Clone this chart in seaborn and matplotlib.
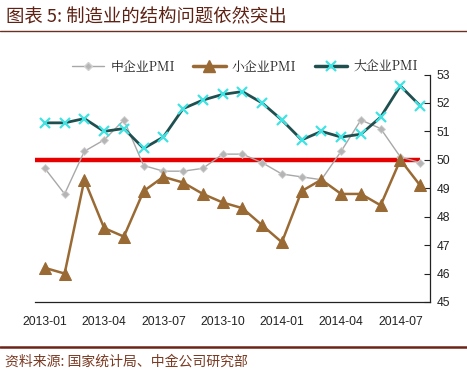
import matplotlib
matplotlib.use("Agg")
import matplotlib.pyplot as plt
import matplotlib.ticker as mticker
from matplotlib.lines import Line2D
import seaborn as sns
import numpy as np

months = ["2013-01", "2013-02", "2013-03", "2013-04", "2013-05", "2013-06", "2013-07",
          "2013-08", "2013-09", "2013-10", "2013-11", "2013-12", "2014-01", "2014-02",
          "2014-03", "2014-04", "2014-05", "2014-06", "2014-07", "2014-08"]
medium_pmi = [49.7, 48.8, 50.3, 50.7, 51.4, 49.8, 49.6, 49.6, 49.7, 50.2,
              50.2, 49.9, 49.5, 49.4, 49.3, 50.3, 51.4, 51.1, 50.1, 49.9]
small_pmi = [46.2, 46.0, 49.3, 47.6, 47.3, 48.9, 49.4, 49.2, 48.8, 48.5,
             48.3, 47.7, 47.1, 48.9, 49.3, 48.8, 48.8, 48.4, 50.0, 49.1]
large_pmi = [51.3, 51.3, 51.45, 51.0, 51.1, 50.4, 50.8, 51.8, 52.1, 52.3,
             52.4, 52.0, 51.4, 50.7, 51.0, 50.8, 50.9, 51.5, 52.6, 51.9]
series_names = ["中企业PMI", "小企业PMI", "大企业PMI"]
y_ticks = [45, 46, 47, 48, 49, 50, 51, 52, 53]
threshold = 50
title_text = "图表 5: 制造业的结构问题依然突出"
source_text = "资料来源: 国家统计局、中金公司研究部"

sns.set_style("white")
plt.rcParams["font.family"] = ["Liberation Sans", "Noto Sans CJK SC", "DejaVu Sans"]

fig = plt.figure(figsize=(4.67, 3.74), dpi=100)
ax = fig.add_axes([35 / 467, 1 - 302 / 374, 395 / 467, (302 - 74.5) / 374])

x = np.arange(len(months))

grey = "#a8a8a8"
brown = "#9a6a34"
dark = "#1f4f4f"
cyan = "#3fe3e3"
red = "#e60000"

ax.hlines(threshold, -0.5, len(months) - 1, color=red, lw=3.2, zorder=2)

sns.lineplot(x=x, y=medium_pmi, ax=ax, color=grey, lw=1.0, marker="D", markersize=4.5,
             markerfacecolor="#b5b5b5", markeredgecolor="#d0d0d0", markeredgewidth=0.6, zorder=3)
sns.lineplot(x=x, y=small_pmi, ax=ax, color=brown, lw=1.8, marker="^", markersize=9,
             markerfacecolor=brown, markeredgecolor=brown, zorder=4)
sns.lineplot(x=x, y=large_pmi, ax=ax, color=dark, lw=2.0, marker="x", markersize=7,
             markeredgecolor=cyan, markeredgewidth=1.6, zorder=5)

ax.set_xlim(-0.5, len(months) - 0.5)
ax.set_ylim(45, 53)
ax.set_yticks(y_ticks)
ax.yaxis.tick_right()
ax.yaxis.set_label_position("right")
ax.set_xticks(x[::3])
ax.set_xticklabels(months[::3])
ax.xaxis.set_minor_locator(mticker.FixedLocator(list(np.arange(-0.5, len(months), 3)) + [len(months) - 0.5]))
ax.tick_params(axis="x", which="major", length=0, pad=10, labelsize=8.7, colors="#222222")
ax.tick_params(axis="x", which="minor", length=4, direction="in", color="#222222", width=0.8)
ax.tick_params(axis="y", which="major", length=4, direction="in", pad=5, labelsize=8.7,
               colors="#222222", width=0.8, right=True, left=False)
ax.set_xlabel("")
ax.set_ylabel("")
for s in ["top", "left"]:
    ax.spines[s].set_visible(False)
for s in ["bottom", "right"]:
    ax.spines[s].set_visible(True)
    ax.spines[s].set_color("#222222")
    ax.spines[s].set_linewidth(0.9)

handles = [
    Line2D([], [], color=grey, lw=1.0, marker="D", markersize=4.5,
           markerfacecolor="#b5b5b5", markeredgecolor="#d0d0d0"),
    Line2D([], [], color=brown, lw=2.5, marker="^", markersize=8, markerfacecolor=brown,
           markeredgecolor=brown),
    Line2D([], [], color=dark, lw=2.5, marker="x", markersize=7, markeredgecolor=cyan,
           markeredgewidth=1.6),
]
leg = fig.legend(handles, series_names, loc="center", bbox_to_anchor=(245 / 467, 1 - 67 / 374),
                 ncol=3, frameon=False, handlelength=2.5, columnspacing=1.4, handletextpad=0.5,
                 prop={"family": ["Noto Serif CJK SC", "Noto Sans CJK SC", "DejaVu Sans"], "size": 9.3})
for t in leg.get_texts():
    t.set_color("#222222")

title_color = "#5e2214"
fig.text(6 / 467, 1 - 17 / 374, title_text, fontsize=13.2, color=title_color,
         family=["Noto Sans CJK SC", "DejaVu Sans"], ha="left", va="center")
fig.add_artist(Line2D([0, 1], [1 - 31 / 374, 1 - 31 / 374], color="#6a3020", lw=1.0,
                      transform=fig.transFigure))
fig.add_artist(Line2D([0, 1], [1 - 347 / 374, 1 - 347 / 374], color="#6a2418", lw=1.8,
                      transform=fig.transFigure))
fig.text(5 / 467, 1 - 362 / 374, source_text, fontsize=10, color="#7a3a22",
         family=["Noto Sans CJK SC", "DejaVu Sans"], ha="left", va="center")

fig.savefig("out.png", dpi=100)
